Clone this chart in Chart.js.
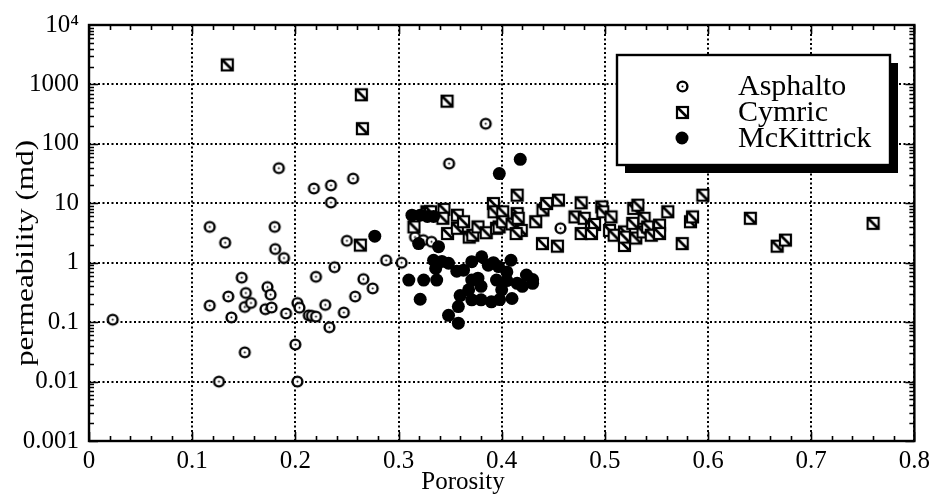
<!DOCTYPE html>
<html><head><meta charset="utf-8">
<script src="https://cdn.jsdelivr.net/npm/chart.js@4.4.0/dist/chart.umd.min.js"></script>
<style>html,body{margin:0;padding:0;background:#fff}#wrap{width:935px;height:494px}</style>
</head><body><div id="wrap"><canvas id="c" width="935" height="494"></canvas></div>
<script>
const seriesNames = ["Asphalto", "Cymric", "McKittrick"];

const asphaltoX = [0.023,0.117,0.117,0.126,0.132,0.135,0.138,0.148,0.152,0.151,0.157,0.151,0.173,0.176,0.171,0.177,0.180,0.1805,0.184,0.189,0.191,0.202,0.204,0.200,0.202,0.213,0.216,0.220,0.218,0.220,0.229,0.233,0.2345,0.2345,0.238,0.247,0.250,0.256,0.258,0.266,0.275,0.288,0.303,0.316,0.324,0.332,0.349,0.3845,0.457];
const asphaltoY = [0.11,4.0,0.19,0.01,2.17,0.27,0.12,0.56,0.31,0.18,0.21,0.031,0.39,0.29,0.165,0.176,4.0,1.7,39,1.2,0.14,0.21,0.175,0.042,0.01,0.13,0.128,0.124,17.7,0.58,0.195,0.082,20,10.3,0.84,0.145,2.34,26,0.27,0.53,0.37,1.1,1.0,2.7,2.4,2.25,46.5,218,3.8];

const cymricX = [0.134,0.264,0.265,0.263,0.347,0.315,0.3275,0.331,0.344,0.343,0.3475,0.357,0.357,0.363,0.3685,0.372,0.377,0.385,0.392,0.3925,0.395,0.401,0.3975,0.401,0.410,0.415,0.415,0.416,0.419,0.414,0.433,0.440,0.4435,0.4395,0.455,0.454,0.471,0.477,0.480,0.477,0.487,0.490,0.487,0.497,0.498,0.506,0.5045,0.509,0.519,0.519,0.519,0.527,0.528,0.532,0.530,0.537,0.538,0.5415,0.545,0.553,0.553,0.561,0.575,0.583,0.585,0.595,0.641,0.667,0.675,0.760];
const cymricY = [2130,670,180,1.98,523,4.0,7.2,7.2,7.9,5.6,3.1,6.3,3.8,4.9,2.7,2.9,4.0,3.2,9.9,7.2,3.8,7.2,4.0,4.9,4.5,13.7,6.7,5.6,3.5,3.1,4.9,7.7,9.9,2.1,11.3,1.9,5.9,10.2,5.6,3.1,4.0,4.4,3.1,8.7,7.2,5.9,3.5,2.9,3.3,1.95,2.7,4.6,8.2,9.3,2.6,3.3,5.6,4.0,2.9,4.3,3.1,7.2,2.1,4.9,5.9,13.7,5.6,1.9,2.4,4.6];

const mckX = [0.277,0.313,0.321,0.328,0.334,0.3195,0.3388,0.334,0.342,0.3485,0.336,0.310,0.3244,0.337,0.321,0.3565,0.363,0.371,0.3806,0.387,0.392,0.3597,0.358,0.3485,0.358,0.371,0.377,0.368,0.380,0.371,0.380,0.390,0.395,0.3977,0.418,0.398,0.397,0.409,0.424,0.405,0.415,0.430,0.430,0.400,0.410,0.420,0.405];
const mckY = [2.8,6.3,6.3,6.0,6.0,2.1,1.86,1.1,1.05,0.98,0.8,0.51,0.51,0.51,0.243,0.72,0.75,1.04,1.26,0.91,1.0,0.28,0.183,0.13,0.096,0.51,0.55,0.35,0.40,0.237,0.237,0.22,0.51,31.6,55,0.24,0.86,1.1,0.62,0.5,0.45,0.45,0.52,0.35,0.25,0.4,0.7];

const xTicks = [0, 0.1, 0.2, 0.3, 0.4, 0.5, 0.6, 0.7, 0.8];
const xTickLabels = ["0", "0.1", "0.2", "0.3", "0.4", "0.5", "0.6", "0.7", "0.8"];
const yTicks = [0.001, 0.01, 0.1, 1, 10, 100, 1000, 10000];
const yTickLabels = ["0.001", "0.01", "0.1", "1", "10", "100", "1000", "10\u2074"];
const xTitle = "Porosity";
const yTitle = "permeability (md)";

const FONT = "'Liberation Serif', 'DejaVu Serif', serif";

function makeCircleDot() {
  const c = document.createElement('canvas'); c.width = 15; c.height = 15;
  const g = c.getContext('2d');
  g.beginPath(); g.arc(7.5, 7.5, 4.9, 0, Math.PI * 2);
  g.fillStyle = '#fff'; g.fill();
  g.lineWidth = 2.4; g.strokeStyle = '#000'; g.stroke();
  g.beginPath(); g.arc(7.5, 7.5, 1.0, 0, Math.PI * 2); g.fillStyle = '#000'; g.fill();
  return c;
}
function makeSquareDiag() {
  const c = document.createElement('canvas'); c.width = 15; c.height = 15;
  const g = c.getContext('2d');
  g.fillStyle = '#fff'; g.fillRect(2, 2, 11, 11);
  g.lineWidth = 2.2; g.strokeStyle = '#000'; g.strokeRect(2, 2, 11, 11);
  g.lineWidth = 2.6; g.beginPath(); g.moveTo(3, 3); g.lineTo(12, 12); g.stroke();
  return c;
}
const styleA = makeCircleDot();
const styleC = makeSquareDiag();

function pts(xs, ys) { return xs.map((x, i) => ({ x: x, y: ys[i] })); }

const frameTicks = {
  id: 'frameTicks',
  afterDraw(chart) {
    const { ctx, chartArea: a, scales: { x, y } } = chart;
    ctx.save();
    ctx.strokeStyle = '#000';
    ctx.lineWidth = 1.6;
    ctx.beginPath();
    for (let i = 0; i <= 40; i++) {
      const v = i * 0.02;
      const px = Math.round(x.getPixelForValue(v)) + 0.5;
      const len = (i % 5 === 0) ? 9 : 5;
      ctx.moveTo(px, a.bottom); ctx.lineTo(px, a.bottom - len);
      ctx.moveTo(px, a.top); ctx.lineTo(px, a.top + len);
    }
    for (let e = -3; e < 4; e++) {
      for (let m = 1; m < 10; m++) {
        const v = m * Math.pow(10, e);
        const py = Math.round(y.getPixelForValue(v)) + 0.5;
        const len = m === 1 ? 9 : 5;
        ctx.moveTo(a.left, py); ctx.lineTo(a.left + len, py);
        ctx.moveTo(a.right, py); ctx.lineTo(a.right - len, py);
      }
    }
    ctx.stroke();
    ctx.lineWidth = 2.4;
    ctx.strokeRect(a.left, a.top, a.right - a.left, a.bottom - a.top);
    ctx.restore();
  }
};

const axisTitles = {
  id: 'axisTitles',
  afterDraw(chart) {
    const { ctx, chartArea: a } = chart;
    ctx.save();
    ctx.fillStyle = '#000';
    ctx.textAlign = 'center';
    ctx.textBaseline = 'alphabetic';
    ctx.font = "25px " + FONT;
    ctx.fillText(xTitle, a.left + 374, 489);
    ctx.translate(33, (a.top + a.bottom) / 2 + 20);
    ctx.rotate(-Math.PI / 2);
    ctx.scale(1.2, 1);
    ctx.font = "26px " + FONT;
    ctx.fillText(yTitle, 0, 0);
    ctx.restore();
  }
};

const boxLegend = {
  id: 'boxLegend',
  afterDraw(chart) {
    const { ctx, chartArea: a } = chart;
    const bx = a.left + 528, by = a.top + 30, bw = 273, bh = 110, sh = 8;
    ctx.save();
    ctx.fillStyle = '#000';
    ctx.fillRect(bx + sh, by + sh, bw, bh);
    ctx.fillStyle = '#fff';
    ctx.fillRect(bx, by, bw, bh);
    ctx.lineWidth = 2.4; ctx.strokeStyle = '#000';
    ctx.strokeRect(bx, by, bw, bh);
    const rows = [31, 57, 83];
    chart.data.datasets.forEach((ds, i) => {
      const cy = by + rows[i];
      const cx = bx + 65;
      if (ds.pointStyle && typeof ds.pointStyle !== 'string') {
        ctx.drawImage(ds.pointStyle, Math.round(cx - ds.pointStyle.width / 2), Math.round(cy - ds.pointStyle.height / 2));
      } else {
        ctx.beginPath(); ctx.arc(cx, cy, 6.5, 0, Math.PI * 2); ctx.fillStyle = '#000'; ctx.fill();
      }
      ctx.fillStyle = '#000';
      ctx.font = "30px " + FONT;
      ctx.textBaseline = 'middle';
      ctx.textAlign = 'left';
      ctx.fillText(ds.label, bx + 121, cy + 1);
    });
    ctx.restore();
  }
};

new Chart(document.getElementById('c'), {
  type: 'scatter',
  data: {
    datasets: [
      { label: seriesNames[0], data: pts(asphaltoX, asphaltoY), pointStyle: styleA, order: 3 },
      { label: seriesNames[1], data: pts(cymricX, cymricY), pointStyle: styleC, order: 2 },
      { label: seriesNames[2], data: pts(mckX, mckY), pointStyle: 'circle', pointRadius: 6.5, backgroundColor: '#000', borderColor: '#000', borderWidth: 0, order: 1 }
    ]
  },
  options: {
    responsive: false,
    devicePixelRatio: 1,
    animation: false,
    layout: { padding: { top: 24, right: 17, left: 0, bottom: 0 } },
    plugins: { legend: { display: false }, tooltip: { enabled: false } },
    scales: {
      x: {
        type: 'linear', min: 0, max: 0.8,
        afterBuildTicks: (s) => { s.ticks = xTicks.map(v => ({ value: v })); },
        afterFit: (s) => { s.height = 53; },
        ticks: { callback: (v, i) => xTickLabels[i], color: '#000', font: { family: FONT, size: 25 }, padding: 5, maxRotation: 0 },
        grid: { color: '#000', lineWidth: 2, drawTicks: false, tickLength: 0 },
        border: { display: false, dash: [2, 2.5] },
        title: { display: false, text: xTitle }
      },
      y: {
        type: 'logarithmic', min: 0.001, max: 10000,
        afterBuildTicks: (s) => { s.ticks = yTicks.map(v => ({ value: v })); },
        afterFit: (s) => { s.width = 89; },
        ticks: { callback: (v, i) => yTickLabels[i], color: '#000', font: { family: FONT, size: 25 }, padding: 10 },
        grid: { color: '#000', lineWidth: 2, drawTicks: false, tickLength: 0 },
        border: { display: false, dash: [2, 2.5] },
        title: { display: false, text: yTitle }
      }
    }
  },
  plugins: [frameTicks, axisTitles, boxLegend]
});
</script>
</body></html>
